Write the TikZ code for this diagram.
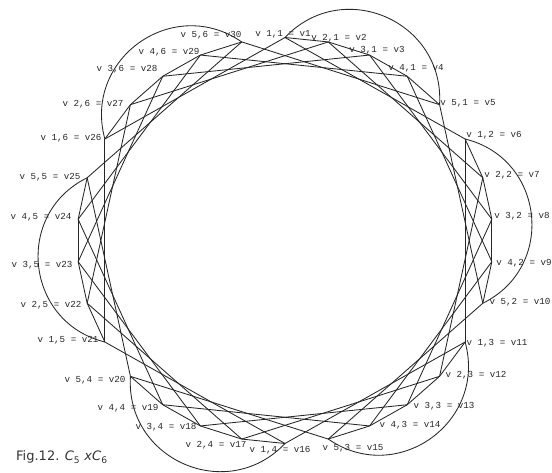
\documentclass[tikz,border=0pt]{standalone}
\usepackage{fontspec}
\newfontfamily\lblfont{Liberation Mono}
\newfontfamily\capfont{DejaVu Sans}
\begin{document}
\begin{tikzpicture}[x=1pt,y=1pt,
  edge/.style={draw=black!85, line width=0.85pt},
  lbl/.style={font=\lblfont\fontsize{9.2}{10}\selectfont, text=black!85, inner sep=0pt}]
\useasboundingbox (-285,-231.5) rectangle (267,240.5);
\foreach \k in {1,...,30} {
  \pgfmathsetmacro\ang{90-12*(\k-1)}
  \coordinate (v\k) at (\ang:208pt and 203pt);
}
% C5 edges: short chords and outer arcs
\foreach \j in {0,...,5} {
  \foreach \i in {1,...,4} {
    \pgfmathtruncatemacro\a{5*\j+\i}
    \pgfmathtruncatemacro\b{\a+1}
    \draw[edge] (v\a) -- (v\b);
  }
  \pgfmathtruncatemacro\a{5*\j+1}
  \pgfmathtruncatemacro\b{5*\j+5}
  \draw[edge] (v\a) to[bend left=70, looseness=1.27] (v\b);
}
% C6 edges
\foreach \k in {1,...,30} {
  \pgfmathtruncatemacro\b{mod(\k+4,30)+1}
  \draw[edge] (v\k) -- (v\b);
}
% labels
\foreach \k/\i/\j/\x/\y in {
  1/1/1/-2/206.5, 2/2/1/54/202.5, 3/3/1/92/190.5, 4/4/1/131/172.5, 5/5/1/183/137.5,
  6/1/2/209/105.5, 7/2/2/227/65.5, 8/3/2/237/24.5, 9/4/2/239/-22.5, 10/5/2/235/-61.5,
  11/1/3/212/-102.5, 12/2/3/191/-134.5, 13/3/3/159/-165.5, 14/4/3/125/-184.5, 15/5/3/68/-207.5,
  16/1/4/-5/-209.5, 17/2/4/-69/-204.5, 18/3/4/-119/-186.5, 19/4/4/-157/-167.5, 20/5/4/-190/-139.5,
  21/1/5/-217/-99.5, 22/2/5/-234/-64.5, 23/3/5/-243/-24.5, 24/4/5/-244/23.5, 25/5/5/-235/63.5,
  26/1/6/-214/102.5, 27/2/6/-192/136.5, 28/3/6/-158/171.5, 29/4/6/-116/188.5, 30/5/6/-74/205.5} {
  \node[lbl] (l\k) at (\x,\y) {v \i,\j{} = v\k};
}
\node[anchor=west, font=\capfont\fontsize{13}{15}\selectfont, inner sep=0pt, text=black!80] (cap) at (-269,-216.5)
  {Fig.12. \textit{C}\textsubscript{5} \textit{x}\textit{C}\textsubscript{6}};
\end{tikzpicture}
\end{document}
